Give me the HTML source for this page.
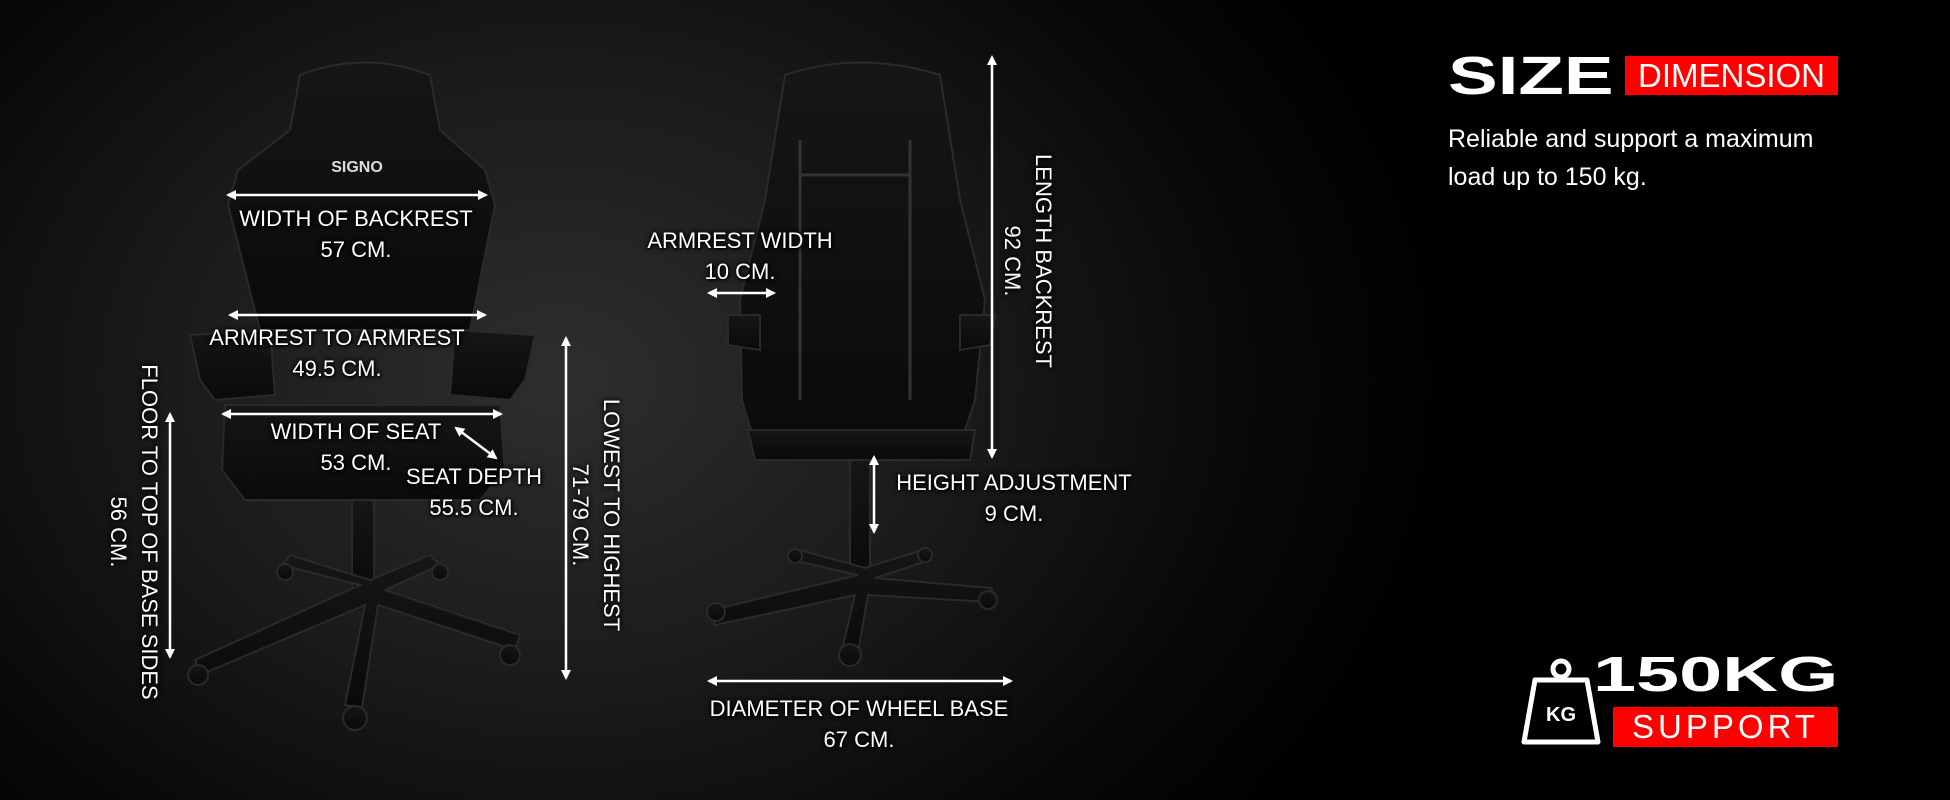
<!DOCTYPE html>
<html><head><meta charset="utf-8"><style>
html,body{margin:0;padding:0;}
body{width:1950px;height:800px;overflow:hidden;position:relative;
background:radial-gradient(ellipse 900px 700px at 560px 380px,#2e2e2e 0%,#1a1a1a 45%,#070707 80%,#000 100%);
font-family:"Liberation Sans",Arial,sans-serif;color:#fff;}
.t{position:absolute;font-size:22px;line-height:31px;text-align:center;white-space:nowrap;
text-shadow:0 0 4px #000,0 0 6px #000,1px 1px 2px #000;}
.v{position:absolute;font-size:22px;line-height:31px;text-align:center;white-space:nowrap;transform:translate(-50%,-50%) rotate(90deg);
text-shadow:0 0 4px #000,0 0 6px #000;}
svg{position:absolute;left:0;top:0;}
</style></head><body>
<svg width="1950" height="800" viewBox="0 0 1950 800">
<defs>
<marker id="a" markerWidth="10" markerHeight="10" refX="8" refY="5" orient="auto-start-reverse" markerUnits="userSpaceOnUse"><path d="M0,0 L10,5 L0,10 Z" fill="#fff"/></marker>
<linearGradient id="cg" x1="0" y1="0" x2="0" y2="1"><stop offset="0" stop-color="#161616"/><stop offset="1" stop-color="#0a0a0a"/></linearGradient>
</defs>
<!-- front chair -->
<g fill="url(#cg)" stroke="#2a2a2a" stroke-width="2">
<path d="M300,75 Q365,50 430,75 L440,130 L485,170 L495,205 L470,330 L260,330 L228,205 L238,170 L290,130 Z"/>
<path d="M190,335 L270,330 L275,395 L215,400 L200,380 Z"/>
<path d="M455,330 L535,335 L525,380 L510,400 L450,395 Z"/>
<path d="M225,405 L500,405 L505,470 L480,500 L245,500 L222,470 Z"/>
<rect x="352" y="500" width="22" height="90"/>
<path d="M360,585 L195,660 L200,675 L365,605 L345,705 L362,708 L378,605 L515,650 L520,635 L385,590 L440,565 L430,555 L370,580 L290,555 L282,565 Z"/>
<circle cx="198" cy="675" r="10"/><circle cx="355" cy="718" r="12"/><circle cx="510" cy="655" r="10"/><circle cx="440" cy="572" r="8"/><circle cx="285" cy="572" r="8"/>
</g>
<text x="357" y="172" fill="#ddd" font-size="16" font-weight="bold" text-anchor="middle" font-family="Liberation Sans">SIGNO</text>
<!-- back chair -->
<g fill="url(#cg)" stroke="#2a2a2a" stroke-width="2">
<path d="M785,75 Q860,50 940,75 L960,200 L985,300 L975,400 L955,460 L760,460 L742,400 L740,300 L765,200 Z"/>
<path d="M728,315 L760,315 L760,350 L728,345 Z"/>
<path d="M960,315 L995,315 L990,345 L960,350 Z"/>
<path d="M748,430 L975,430 L970,460 L755,460 Z"/>
<rect x="850" y="460" width="20" height="120"/>
<path d="M858,575 L712,610 L715,625 L855,595 L842,650 L858,652 L868,595 L990,602 L992,588 L875,578 L930,560 L922,550 L865,568 L800,550 L792,560 Z"/>
<circle cx="716" cy="612" r="9"/><circle cx="850" cy="655" r="11"/><circle cx="988" cy="600" r="9"/><circle cx="925" cy="555" r="7"/><circle cx="795" cy="556" r="7"/>
</g>
<g stroke="#333" stroke-width="3" fill="none"><path d="M800,140 L800,400 M910,140 L910,400 M800,175 L910,175"/></g>
<!-- arrows -->
<g stroke="#fff" stroke-width="2.5" fill="none" marker-start="url(#a)" marker-end="url(#a)">
<line x1="228" y1="195" x2="486" y2="195"/>
<line x1="230" y1="315" x2="485" y2="315"/>
<line x1="223" y1="414" x2="501" y2="414"/>
<line x1="456" y1="428" x2="496" y2="458"/>
<line x1="170" y1="414" x2="170" y2="657"/>
<line x1="566" y1="338" x2="566" y2="678"/>
<line x1="709" y1="293" x2="774" y2="293"/>
<line x1="992" y1="57" x2="992" y2="457"/>
<line x1="874" y1="457" x2="874" y2="532"/>
<line x1="709" y1="681" x2="1011" y2="681"/>
</g>
<!-- weight icon -->
<g stroke="#fff" stroke-width="5" fill="none">
<circle cx="1561" cy="669" r="8"/>
<path d="M1535,680 L1587,680 L1598,742 L1524,742 Z" stroke-linejoin="round"/>
</g>
<text x="1561" y="721" fill="#fff" font-size="20" font-weight="bold" text-anchor="middle" font-family="Liberation Sans">KG</text>
</svg>

<div class="t" style="left:206px;top:203px;width:300px;">WIDTH OF BACKREST<br>57 CM.</div>
<div class="t" style="left:187px;top:322px;width:300px;">ARMREST TO ARMREST<br>49.5 CM.</div>
<div class="t" style="left:206px;top:416px;width:300px;">WIDTH OF SEAT<br>53 CM.</div>
<div class="t" style="left:374px;top:461px;width:200px;">SEAT DEPTH<br>55.5 CM.</div>
<div class="t" style="left:590px;top:225px;width:300px;">ARMREST WIDTH<br>10 CM.</div>
<div class="t" style="left:864px;top:467px;width:300px;">HEIGHT ADJUSTMENT<br>9 CM.</div>
<div class="t" style="left:709px;top:693px;width:300px;">DIAMETER OF WHEEL BASE<br>67 CM.</div>
<div class="v" style="left:134px;top:532px;">FLOOR TO TOP OF BASE SIDES<br>56 CM.</div>
<div class="v" style="left:596px;top:515px;">LOWEST TO HIGHEST<br>71-79 CM.</div>
<div class="v" style="left:1028px;top:261px;">LENGTH BACKREST<br>92 CM.</div>

<div style="position:absolute;left:1448px;top:47px;font-size:54px;font-weight:bold;line-height:58px;transform:scaleX(1.38);transform-origin:left;">SIZE</div>
<div style="position:absolute;left:1625px;top:56px;width:213px;height:39px;background:#f00;font-size:33px;line-height:40px;text-align:center;">DIMENSION</div>
<div style="position:absolute;left:1448px;top:120px;font-size:25px;line-height:38px;">Reliable and support a maximum<br>load up to 150 kg.</div>
<div style="position:absolute;left:1593px;top:648px;font-size:49px;font-weight:bold;line-height:54px;transform:scaleX(1.58);transform-origin:left;">150KG</div>
<div style="position:absolute;left:1613px;top:707px;width:225px;height:40px;background:#f00;font-size:33px;line-height:40px;text-align:center;letter-spacing:4px;">SUPPORT</div>
</body></html>
